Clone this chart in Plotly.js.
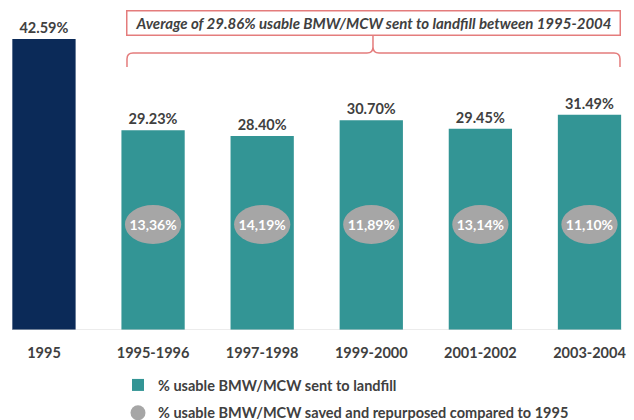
<!DOCTYPE html>
<html>
<head>
<meta charset="utf-8">
<script src="https://cdn.plot.ly/plotly-3.0.1.min.js"></script>
<style>
  body { margin: 0; background: #fff; }
  #chart { width: 634px; height: 420px; }
</style>
</head>
<body>
<div id="chart"></div>
<script>
// Data
var categories = ["1995", "1995-1996", "1997-1998", "1999-2000", "2001-2002", "2003-2004"];
var landfill   = [42.59, 29.23, 28.40, 30.70, 29.45, 31.49];   // % sent to landfill
var saved      = [13.36, 14.19, 11.89, 13.14, 11.10];          // % saved vs 1995 (periods only)
var average    = 29.86;
var landfillName = "% usable BMW/MCW sent to landfill";
var savedName    = "% usable BMW/MCW saved and repurposed compared to 1995";

// Colours
var navy  = "#0b2a58";
var teal  = "#339595";
var grey  = "#a6a6a6";
var ink   = "#404040";
var coral = "#e47c7c";
var fontFam = "Lato, 'Open Sans', sans-serif";

var W = 634, H = 420, plotH = 330;
var bargap = 0.42;
var barW = 1 - bargap;

function pct(v) { return v.toFixed(2) + "%"; }
function pctComma(v) { return v.toFixed(2).replace(".", ",") + "%"; }

// pixel -> paper helpers for the decorations
function px(x) { return +(x / W).toFixed(4); }
function py(y) { return +((plotH - y) / plotH).toFixed(4); }

var valueFont = {family: fontFam, size: 14.5, color: ink, weight: 700};

var traces = [
    {
        type: "bar",
        x: categories.slice(0, 1),
        y: landfill.slice(0, 1),
        marker: {color: navy},
        text: landfill.slice(0, 1).map(pct),
        textposition: "outside",
        textfont: valueFont,
        cliponaxis: false,
        showlegend: false,
        hoverinfo: "skip"
    },
    {
        type: "bar",
        name: landfillName,
        legendgroup: "a",
        x: categories.slice(1),
        y: landfill.slice(1),
        marker: {color: teal},
        text: landfill.slice(1).map(pct),
        textposition: "outside",
        textfont: valueFont,
        cliponaxis: false,
        hoverinfo: "skip"
    },
    {
        // legend entry only, the ellipses are shapes
        type: "scatter",
        mode: "markers",
        name: savedName,
        legendgroup: "b",
        x: [null],
        y: [null],
        marker: {color: grey, size: 15, symbol: "circle"}
    }
];

var shapes = [];

// baseline
shapes.push({
    type: "line", xref: "x", yref: "y",
    x0: 0 - barW / 2, x1: categories.length - 1 + barW / 2, y0: 0, y1: 0,
    line: {color: "#d9d9d9", width: 1}
});

// grey ellipses with the saved percentages
var ellHalfW = 0.258, ellY0 = 12.6, ellY1 = 18.3;
for (var i = 0; i < saved.length; i++) {
    shapes.push({
        type: "circle", xref: "x", yref: "y",
        x0: i + 1 - ellHalfW, x1: i + 1 + ellHalfW,
        y0: ellY0, y1: ellY1,
        fillcolor: grey, line: {width: 0},
        label: {
            text: "<b>" + pctComma(saved[i]) + "</b>",
            textposition: "middle center",
            font: {family: fontFam, size: 14, color: "#ffffff"}
        }
    });
}

// brace under the average box
var brace = "M" + px(127) + "," + py(67) +
            " L" + px(127) + "," + py(59) +
            " Q" + px(127) + "," + py(53) + " " + px(133) + "," + py(53) +
            " L" + px(367) + "," + py(53) +
            " Q" + px(373) + "," + py(53) + " " + px(373) + "," + py(47) +
            " L" + px(373) + "," + py(35) +
            " M" + px(373) + "," + py(47) +
            " Q" + px(373) + "," + py(53) + " " + px(379) + "," + py(53) +
            " L" + px(614) + "," + py(53) +
            " Q" + px(620) + "," + py(53) + " " + px(620) + "," + py(59) +
            " L" + px(620) + "," + py(67);
shapes.push({
    type: "path", xref: "paper", yref: "paper", path: brace,
    line: {color: coral, width: 1.5}
});

var layout = {
    width: W, height: H,
    margin: {l: 0, r: 0, t: 0, b: H - plotH, autoexpand: false},
    paper_bgcolor: "#ffffff",
    plot_bgcolor: "#ffffff",
    barmode: "overlay",
    bargap: bargap,
    showlegend: true,
    legend: {
        x: px(118), y: py(369), xanchor: "left", yanchor: "top",
        orientation: "v",
        tracegroupgap: 6,
        font: {family: fontFam, size: 14.5, color: ink, weight: 700},
        bgcolor: "rgba(0,0,0,0)"
    },
    xaxis: {
        type: "category",
        range: [-0.403, 5.408],
        showgrid: false, zeroline: false, showline: false,
        ticks: "outside", ticklen: 10, tickcolor: "rgba(0,0,0,0)",
        tickfont: {family: fontFam, size: 14.5, color: ink, weight: 700},
        fixedrange: true
    },
    yaxis: {
        range: [0, 48.3],
        visible: false,
        fixedrange: true
    },
    shapes: shapes,
    annotations: [{
        xref: "paper", yref: "paper",
        x: px(373.5), y: py(23), xanchor: "center", yanchor: "middle",
        text: "<i><b>Average of " + pct(average) + " usable BMW/MCW sent to landfill between 1995-2004</b></i>",
        showarrow: false,
        font: {family: fontFam, size: 15, color: ink},
        bgcolor: "#ffffff",
        bordercolor: coral, borderwidth: 1.5, borderpad: 2,
        width: 488, height: 19
    }]
};

Plotly.newPlot("chart", traces, layout, {displayModeBar: false, staticPlot: true});
</script>
</body>
</html>
